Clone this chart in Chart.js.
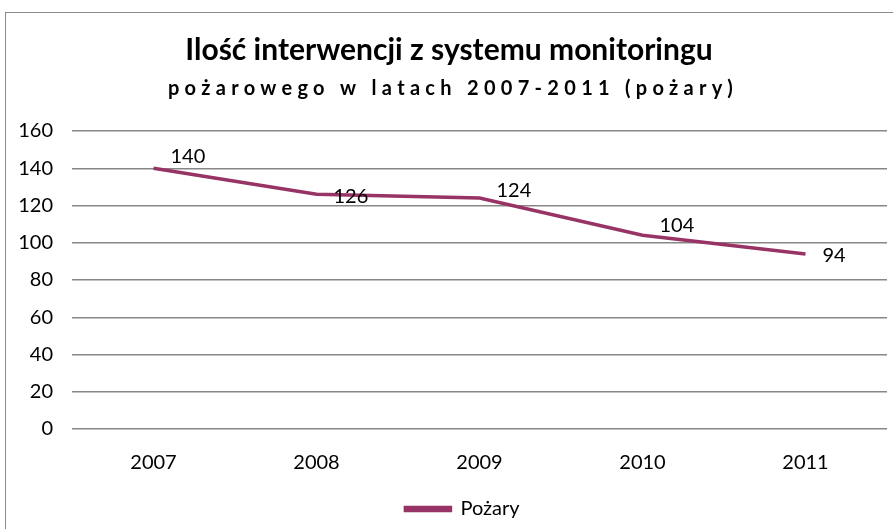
<!DOCTYPE html>
<html>
<head>
<meta charset="utf-8">
<script src="https://cdn.jsdelivr.net/npm/chart.js@4/dist/chart.umd.min.js"></script>
<style>
  html, body { margin: 0; padding: 0; background: #fff; }
  #wrap { width: 893px; height: 529px; position: relative; }
</style>
</head>
<body>
<div id="wrap"><canvas id="myChart" width="893" height="529"></canvas></div>
<script>
// data
var years = ["2007", "2008", "2009", "2010", "2011"];
var fires = [140, 126, 124, 104, 94];
var seriesName = "Pożary";
var titleText = "Ilość interwencji z systemu monitoringu";
var subtitleText = "pożarowego w latach 2007-2011 (pożary)";

var FONT = "Lato, 'Open Sans', sans-serif";
var lineColor = "#983365";

// where Excel put each value label, relative to its point
var labelDx = [17, 17, 17, 17, 17];
var labelDy = [-12, 2, -8, -10, 2];

var decoPlugin = {
    id: "deco",
    afterLayout: function (chart) {
        // Excel legend sits a bit right of centre
        chart.legend.left += 19;
        chart.legend.right += 19;
    },
    afterDraw: function (chart) {
        var ctx = chart.ctx;
        ctx.save();
        // outer frame
        ctx.strokeStyle = "#8a8a8a";
        ctx.lineWidth = 1;
        ctx.strokeRect(5.5, 12.5, 900, 600);

        // title + spaced subtitle
        ctx.fillStyle = "#000";
        ctx.textAlign = "center";
        ctx.textBaseline = "middle";
        ctx.font = "bold 30px " + FONT;
        ctx.fillText(titleText, 449, 50);
        ctx.font = "bold 20px " + FONT;
        ctx.letterSpacing = "5.3px";
        ctx.fillText(subtitleText, 453, 89);
        ctx.letterSpacing = "0px";

        // value labels
        var meta = chart.getDatasetMeta(0);
        ctx.font = "20px " + FONT;
        ctx.textAlign = "left";
        for (var i = 0; i < meta.data.length; i++) {
            var p = meta.data[i];
            ctx.fillText(String(fires[i]), p.x + labelDx[i], p.y + labelDy[i]);
        }
        ctx.restore();
    }
};

var chart = new Chart(document.getElementById("myChart"), {
    type: "line",
    data: {
        labels: years,
        datasets: [{
            label: seriesName,
            data: fires,
            borderColor: lineColor,
            backgroundColor: lineColor,
            borderWidth: 3.5,
            pointRadius: 0,
            tension: 0
        }]
    },
    options: {
        responsive: false,
        animation: false,
        layout: { padding: { top: 131, right: 6, left: 0, bottom: 0 } },
        plugins: {
            title: { display: false },
            tooltip: { enabled: false },
            legend: {
                position: "bottom",
                labels: {
                    color: "#000",
                    font: { family: FONT, size: 20 },
                    boxWidth: 45,
                    boxHeight: 3,
                    padding: 2
                }
            }
        },
        scales: {
            x: {
                offset: true,
                grid: { display: false, drawTicks: false },
                border: { display: false },
                ticks: { color: "#000", font: { family: FONT, size: 20 }, padding: 22 }
            },
            y: {
                min: 0,
                max: 160,
                ticks: { stepSize: 20, color: "#000", font: { family: FONT, size: 20 }, padding: 19 },
                grid: { color: "#878787", lineWidth: 1.5, drawTicks: false },
                border: { display: false },
                afterFit: function (scale) { scale.width = 72; }
            }
        }
    },
    plugins: [decoPlugin]
});
</script>
</body>
</html>
